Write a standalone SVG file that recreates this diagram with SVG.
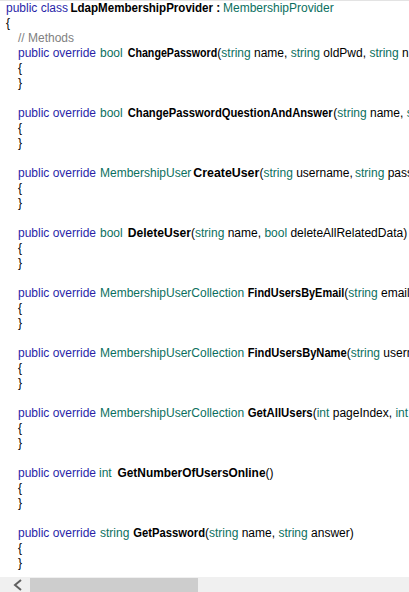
<svg xmlns="http://www.w3.org/2000/svg" width="409" height="592" viewBox="0 0 409 592">
<style>
text{font-family:"Liberation Sans",Arial,sans-serif;font-size:12px;fill:#000;white-space:pre}
.k{fill:#2a1fa8}
.t{fill:#0b7060}
.c{fill:#808080}
.b{font-weight:bold}
</style>
<rect x="0" y="0" width="409" height="592" fill="#ffffff"/>
<rect x="0" y="0" width="409" height="1" fill="#e3e3e3"/>
<g id="code">
<text x="6" y="12"><tspan class="k">public class </tspan><tspan class="b" x="70.5" textLength="142.5" lengthAdjust="spacingAndGlyphs">LdapMembershipProvider</tspan><tspan class="b"> : </tspan><tspan class="t" x="223">MembershipProvider</tspan></text>
<text x="6" y="27">{</text>
<text x="18" y="42" class="c">// Methods</text>
<g id="m1">
<text x="18" y="57"><tspan class="k">public override </tspan><tspan class="t" x="100">bool </tspan><tspan class="b" x="127.7" textLength="89.6" lengthAdjust="spacingAndGlyphs">ChangePassword</tspan><tspan x="217.3">(</tspan><tspan class="t">string</tspan> name, <tspan class="t">string</tspan> oldPwd, <tspan class="t">string</tspan> n</text>
<text x="18" y="72">{</text><text x="18" y="87">}</text>
</g>
<g id="m2">
<text x="18" y="117"><tspan class="k">public override </tspan><tspan class="t" x="100">bool </tspan><tspan class="b" x="127.7" textLength="205" lengthAdjust="spacingAndGlyphs">ChangePasswordQuestionAndAnswer</tspan><tspan x="333.3">(</tspan><tspan class="t">string</tspan> name, <tspan class="t">s</tspan></text>
<text x="18" y="132">{</text><text x="18" y="147">}</text>
</g>
<g id="m3">
<text x="18" y="177"><tspan class="k">public override </tspan><tspan class="t" x="100">MembershipUser </tspan><tspan class="b" x="193.3" textLength="66" lengthAdjust="spacingAndGlyphs">CreateUser</tspan><tspan x="259.5">(</tspan><tspan class="t">string</tspan> username, <tspan class="t" x="355">string</tspan> passw</text>
<text x="18" y="192">{</text><text x="18" y="207">}</text>
</g>
<g id="m4">
<text x="18" y="237"><tspan class="k">public override </tspan><tspan class="t" x="100">bool </tspan><tspan class="b" x="127.7" textLength="63.3" lengthAdjust="spacingAndGlyphs">DeleteUser</tspan><tspan x="191">(</tspan><tspan class="t">string</tspan> name, <tspan class="t">bool</tspan> deleteAllRelatedData)</text>
<text x="18" y="252">{</text><text x="18" y="267">}</text>
</g>
<g id="m5">
<text x="18" y="297"><tspan class="k">public override </tspan><tspan class="t" x="100">MembershipUserCollection </tspan><tspan class="b" x="247.7" textLength="96.6" lengthAdjust="spacingAndGlyphs">FindUsersByEmail</tspan><tspan x="344.3">(</tspan><tspan class="t">string</tspan> email</text>
<text x="18" y="312">{</text><text x="18" y="327">}</text>
</g>
<g id="m6">
<text x="18" y="357"><tspan class="k">public override </tspan><tspan class="t" x="100">MembershipUserCollection </tspan><tspan class="b" x="247.7" textLength="99" lengthAdjust="spacingAndGlyphs">FindUsersByName</tspan><tspan x="346.7">(</tspan><tspan class="t">string</tspan> usern</text>
<text x="18" y="372">{</text><text x="18" y="387">}</text>
</g>
<g id="m7">
<text x="18" y="417"><tspan class="k">public override </tspan><tspan class="t" x="100">MembershipUserCollection </tspan><tspan class="b" x="247.7" textLength="65" lengthAdjust="spacingAndGlyphs">GetAllUsers</tspan><tspan x="312.7">(</tspan><tspan class="t">int</tspan> pageIndex, <tspan class="t">int</tspan></text>
<text x="18" y="432">{</text><text x="18" y="447">}</text>
</g>
<g id="m8">
<text x="18" y="477"><tspan class="k">public override </tspan><tspan class="t" x="99">int </tspan><tspan class="b" x="117.5" textLength="148" lengthAdjust="spacingAndGlyphs">GetNumberOfUsersOnline</tspan><tspan x="265.5">()</tspan></text>
<text x="18" y="492">{</text><text x="18" y="507">}</text>
</g>
<g id="m9">
<text x="18" y="537"><tspan class="k">public override </tspan><tspan class="t" x="100">string </tspan><tspan class="b" x="133.3" textLength="71.7" lengthAdjust="spacingAndGlyphs">GetPassword</tspan><tspan x="205">(</tspan><tspan class="t">string</tspan> name, <tspan class="t">string</tspan> answer)</text>
<text x="18" y="552">{</text><text x="18" y="567">}</text>
</g>
</g>
<g id="scrollbar">
<rect x="0" y="577" width="409" height="15" fill="#f0f0f0"/>
<rect x="30" y="578" width="168" height="14" fill="#cdcdcd"/>
<polyline points="21,580 15,585 21,590" fill="none" stroke="#606060" stroke-width="2"/>
</g>
</svg>
